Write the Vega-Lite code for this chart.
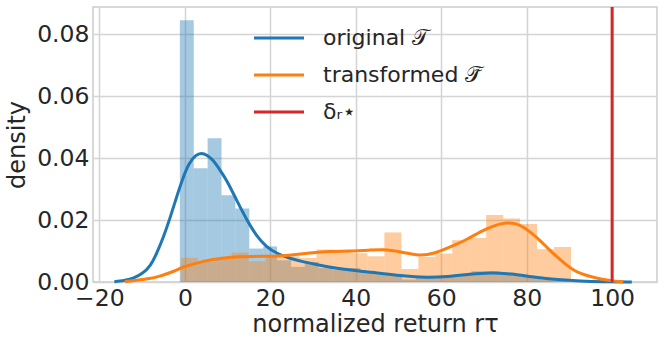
{
  "$schema": "https://vega.github.io/schema/vega-lite/v6.json",
  "width": 564,
  "height": 275,
  "autosize": {"type": "none"},
  "padding": {"left": 93, "top": 7, "right": 7, "bottom": 62},
  "config": {
    "view": {"stroke": "#cccccc", "strokeWidth": 1.5},
    "font": "DejaVu Sans",
    "axis": {
      "grid": true,
      "gridColor": "#d4d4d4",
      "gridWidth": 1.5,
      "domain": false,
      "ticks": false,
      "labelFont": "DejaVu Sans",
      "labelFontSize": 23.5,
      "labelColor": "#262626",
      "titleFont": "DejaVu Sans",
      "titleFontSize": 24,
      "titleFontWeight": "normal",
      "titleColor": "#262626"
    }
  },
  "datasets": {
    "hist": [
      {"series": "original", "x0": -1.17, "x1": 2.08, "density": 0.0845},
      {"series": "original", "x0": 2.08, "x1": 5.33, "density": 0.0367},
      {"series": "original", "x0": 5.33, "x1": 8.58, "density": 0.0464},
      {"series": "original", "x0": 8.58, "x1": 11.83, "density": 0.028},
      {"series": "original", "x0": 11.83, "x1": 15.08, "density": 0.0237},
      {"series": "original", "x0": 15.08, "x1": 18.33, "density": 0.0108},
      {"series": "original", "x0": 18.33, "x1": 21.58, "density": 0.0115},
      {"series": "original", "x0": 21.58, "x1": 24.83, "density": 0.007},
      {"series": "original", "x0": 24.83, "x1": 28.08, "density": 0.0049},
      {"series": "original", "x0": 28.08, "x1": 31.33, "density": 0.0065},
      {"series": "original", "x0": 31.33, "x1": 34.58, "density": 0.0045},
      {"series": "original", "x0": 34.58, "x1": 37.83, "density": 0.004},
      {"series": "original", "x0": 37.83, "x1": 41.08, "density": 0.0045},
      {"series": "original", "x0": 41.08, "x1": 44.33, "density": 0.0035},
      {"series": "original", "x0": 44.33, "x1": 47.58, "density": 0.003},
      {"series": "original", "x0": 47.58, "x1": 50.83, "density": 0.002},
      {"series": "original", "x0": 50.83, "x1": 54.08, "density": 0.0008},
      {"series": "original", "x0": 54.08, "x1": 57.33, "density": 0.0015},
      {"series": "original", "x0": 57.33, "x1": 60.58, "density": 0.0015},
      {"series": "original", "x0": 60.58, "x1": 63.83, "density": 0.002},
      {"series": "original", "x0": 63.83, "x1": 67.08, "density": 0.0025},
      {"series": "original", "x0": 67.08, "x1": 70.33, "density": 0.0035},
      {"series": "original", "x0": 70.33, "x1": 73.58, "density": 0.0035},
      {"series": "original", "x0": 73.58, "x1": 76.83, "density": 0.003},
      {"series": "original", "x0": 76.83, "x1": 80.08, "density": 0.0025},
      {"series": "original", "x0": 80.08, "x1": 83.33, "density": 0.0015},
      {"series": "original", "x0": 83.33, "x1": 86.58, "density": 0.0008},
      {"series": "original", "x0": 86.58, "x1": 89.83, "density": 0.0005},
      {"series": "transformed", "x0": -0.94, "x1": 3.03, "density": 0.0078},
      {"series": "transformed", "x0": 3.03, "x1": 7.0, "density": 0.0065},
      {"series": "transformed", "x0": 7.0, "x1": 10.97, "density": 0.0075},
      {"series": "transformed", "x0": 10.97, "x1": 14.94, "density": 0.0095},
      {"series": "transformed", "x0": 14.94, "x1": 18.91, "density": 0.0067},
      {"series": "transformed", "x0": 18.91, "x1": 22.88, "density": 0.0081},
      {"series": "transformed", "x0": 22.88, "x1": 26.85, "density": 0.0083},
      {"series": "transformed", "x0": 26.85, "x1": 30.82, "density": 0.0078},
      {"series": "transformed", "x0": 30.82, "x1": 34.79, "density": 0.0105},
      {"series": "transformed", "x0": 34.79, "x1": 38.76, "density": 0.0103},
      {"series": "transformed", "x0": 38.76, "x1": 42.73, "density": 0.0093},
      {"series": "transformed", "x0": 42.73, "x1": 46.7, "density": 0.0083},
      {"series": "transformed", "x0": 46.7, "x1": 50.67, "density": 0.016},
      {"series": "transformed", "x0": 50.67, "x1": 54.64, "density": 0.0042},
      {"series": "transformed", "x0": 54.64, "x1": 58.61, "density": 0.0081},
      {"series": "transformed", "x0": 58.61, "x1": 62.58, "density": 0.0092},
      {"series": "transformed", "x0": 62.58, "x1": 66.55, "density": 0.0135},
      {"series": "transformed", "x0": 66.55, "x1": 70.52, "density": 0.0142},
      {"series": "transformed", "x0": 70.52, "x1": 74.49, "density": 0.0216},
      {"series": "transformed", "x0": 74.49, "x1": 78.46, "density": 0.0205},
      {"series": "transformed", "x0": 78.46, "x1": 82.43, "density": 0.0187},
      {"series": "transformed", "x0": 82.43, "x1": 86.4, "density": 0.0106},
      {"series": "transformed", "x0": 86.4, "x1": 90.37, "density": 0.0113}
    ],
    "kde": [
      {"series": "original 𝒯", "x": -16.5, "density": 0.0},
      {"series": "original 𝒯", "x": -16, "density": 0.0002},
      {"series": "original 𝒯", "x": -14, "density": 0.0005},
      {"series": "original 𝒯", "x": -12, "density": 0.0012},
      {"series": "original 𝒯", "x": -10, "density": 0.0026},
      {"series": "original 𝒯", "x": -8, "density": 0.0052},
      {"series": "original 𝒯", "x": -6.5, "density": 0.0095},
      {"series": "original 𝒯", "x": -5, "density": 0.0145},
      {"series": "original 𝒯", "x": -3.5, "density": 0.0205},
      {"series": "original 𝒯", "x": -2, "density": 0.0272},
      {"series": "original 𝒯", "x": -0.5, "density": 0.0335},
      {"series": "original 𝒯", "x": 1, "density": 0.0385},
      {"series": "original 𝒯", "x": 2.5, "density": 0.041},
      {"series": "original 𝒯", "x": 3.9, "density": 0.0418},
      {"series": "original 𝒯", "x": 5.2, "density": 0.041},
      {"series": "original 𝒯", "x": 6.6, "density": 0.0394},
      {"series": "original 𝒯", "x": 8, "density": 0.0366},
      {"series": "original 𝒯", "x": 9.8, "density": 0.0329},
      {"series": "original 𝒯", "x": 12.1, "density": 0.0264},
      {"series": "original 𝒯", "x": 14.5, "density": 0.02},
      {"series": "original 𝒯", "x": 16.8, "density": 0.0148},
      {"series": "original 𝒯", "x": 19.1, "density": 0.0113},
      {"series": "original 𝒯", "x": 21.5, "density": 0.0092},
      {"series": "original 𝒯", "x": 24.6, "density": 0.0076},
      {"series": "original 𝒯", "x": 27.7, "density": 0.0065},
      {"series": "original 𝒯", "x": 31.6, "density": 0.0054},
      {"series": "original 𝒯", "x": 35.5, "density": 0.0044},
      {"series": "original 𝒯", "x": 40.2, "density": 0.0036},
      {"series": "original 𝒯", "x": 45.7, "density": 0.0029},
      {"series": "original 𝒯", "x": 51, "density": 0.0019},
      {"series": "original 𝒯", "x": 56.6, "density": 0.0014},
      {"series": "original 𝒯", "x": 61.3, "density": 0.0017},
      {"series": "original 𝒯", "x": 66.7, "density": 0.0025},
      {"series": "original 𝒯", "x": 71.4, "density": 0.0031},
      {"series": "original 𝒯", "x": 76.1, "density": 0.0027},
      {"series": "original 𝒯", "x": 82.4, "density": 0.0014},
      {"series": "original 𝒯", "x": 87.1, "density": 0.0008},
      {"series": "original 𝒯", "x": 92.5, "density": 0.0003},
      {"series": "original 𝒯", "x": 98, "density": 0.0001},
      {"series": "original 𝒯", "x": 104.6, "density": 0.0},
      {"series": "transformed 𝒯̃", "x": -14, "density": 0.0},
      {"series": "transformed 𝒯̃", "x": -13.7, "density": 0.0002},
      {"series": "transformed 𝒯̃", "x": -11, "density": 0.0006},
      {"series": "transformed 𝒯̃", "x": -8.2, "density": 0.0011},
      {"series": "transformed 𝒯̃", "x": -6, "density": 0.0018},
      {"series": "transformed 𝒯̃", "x": -4.3, "density": 0.0026},
      {"series": "transformed 𝒯̃", "x": -2, "density": 0.0038},
      {"series": "transformed 𝒯̃", "x": -0.4, "density": 0.0049},
      {"series": "transformed 𝒯̃", "x": 2.7, "density": 0.0061},
      {"series": "transformed 𝒯̃", "x": 6.6, "density": 0.0073},
      {"series": "transformed 𝒯̃", "x": 10.5, "density": 0.0081},
      {"series": "transformed 𝒯̃", "x": 16, "density": 0.0083},
      {"series": "transformed 𝒯̃", "x": 21.5, "density": 0.0083},
      {"series": "transformed 𝒯̃", "x": 24.6, "density": 0.0086},
      {"series": "transformed 𝒯̃", "x": 29.3, "density": 0.0094},
      {"series": "transformed 𝒯̃", "x": 34, "density": 0.01},
      {"series": "transformed 𝒯̃", "x": 38.6, "density": 0.0099},
      {"series": "transformed 𝒯̃", "x": 43.3, "density": 0.0103},
      {"series": "transformed 𝒯̃", "x": 46.4, "density": 0.0106},
      {"series": "transformed 𝒯̃", "x": 50.4, "density": 0.0098},
      {"series": "transformed 𝒯̃", "x": 55, "density": 0.0084},
      {"series": "transformed 𝒯̃", "x": 58.2, "density": 0.0091},
      {"series": "transformed 𝒯̃", "x": 62.1, "density": 0.0113},
      {"series": "transformed 𝒯̃", "x": 66, "density": 0.0137},
      {"series": "transformed 𝒯̃", "x": 69.1, "density": 0.0162},
      {"series": "transformed 𝒯̃", "x": 72, "density": 0.0181},
      {"series": "transformed 𝒯̃", "x": 75.3, "density": 0.0193},
      {"series": "transformed 𝒯̃", "x": 77.5, "density": 0.0189},
      {"series": "transformed 𝒯̃", "x": 79.2, "density": 0.0178},
      {"series": "transformed 𝒯̃", "x": 81, "density": 0.016},
      {"series": "transformed 𝒯̃", "x": 83.1, "density": 0.0135},
      {"series": "transformed 𝒯̃", "x": 85, "density": 0.0108},
      {"series": "transformed 𝒯̃", "x": 87.1, "density": 0.0081},
      {"series": "transformed 𝒯̃", "x": 89, "density": 0.0058},
      {"series": "transformed 𝒯̃", "x": 91, "density": 0.0038},
      {"series": "transformed 𝒯̃", "x": 92.5, "density": 0.0028},
      {"series": "transformed 𝒯̃", "x": 95, "density": 0.0017},
      {"series": "transformed 𝒯̃", "x": 97.2, "density": 0.001},
      {"series": "transformed 𝒯̃", "x": 100.3, "density": 0.0003},
      {"series": "transformed 𝒯̃", "x": 102.6, "density": 0.0}
    ],
    "rule": [
      {"series": "δᵣ⋆", "x": 100}
    ]
  },
  "layer": [
    {
      "data": {"name": "hist"},
      "mark": {"type": "rect", "opacity": 0.4},
      "encoding": {
        "x": {
          "field": "x0",
          "type": "quantitative",
          "scale": {"domain": [-21.5, 110.5], "nice": false, "zero": false},
          "axis": {"values": [-20, 0, 20, 40, 60, 80, 100], "labelPadding": 4, "titlePadding": 3, "title": "normalized return rτ"}
        },
        "x2": {"field": "x1"},
        "y": {
          "field": "density",
          "type": "quantitative",
          "scale": {"domain": [0, 0.0888], "nice": false},
          "axis": {"values": [0, 0.02, 0.04, 0.06, 0.08], "format": ".2f", "labelPadding": 4, "titlePadding": 7, "title": "density"}
        },
        "y2": {"datum": 0},
        "fill": {
          "field": "series",
          "type": "nominal",
          "scale": {"domain": ["original", "transformed"], "range": ["#1f77b4", "#ff7f0e"]},
          "legend": null
        }
      }
    },
    {
      "data": {"name": "kde"},
      "mark": {"type": "line", "strokeWidth": 3, "interpolate": "basis"},
      "encoding": {
        "x": {"field": "x", "type": "quantitative"},
        "y": {"field": "density", "type": "quantitative"},
        "color": {
          "field": "series",
          "type": "nominal",
          "scale": {"domain": ["original 𝒯", "transformed 𝒯̃", "δᵣ⋆"], "range": ["#1f77b4", "#ff7f0e", "#d62728"]},
          "legend": {
            "title": null,
            "orient": "none",
            "legendX": 172,
            "legendY": 17,
            "symbolType": "M-2,0H2",
            "symbolSize": 625,
            "symbolStrokeWidth": 3,
            "symbolOpacity": 1,
            "labelFont": "DejaVu Sans",
            "labelFontSize": 22,
            "labelColor": "#262626",
            "labelOffset": 30,
            "rowPadding": 12,
            "labelLimit": 400
          }
        }
      }
    },
    {
      "data": {"name": "rule"},
      "mark": {"type": "rule", "strokeWidth": 3},
      "encoding": {
        "x": {"field": "x", "type": "quantitative"},
        "color": {"field": "series", "type": "nominal"}
      }
    }
  ]
}
